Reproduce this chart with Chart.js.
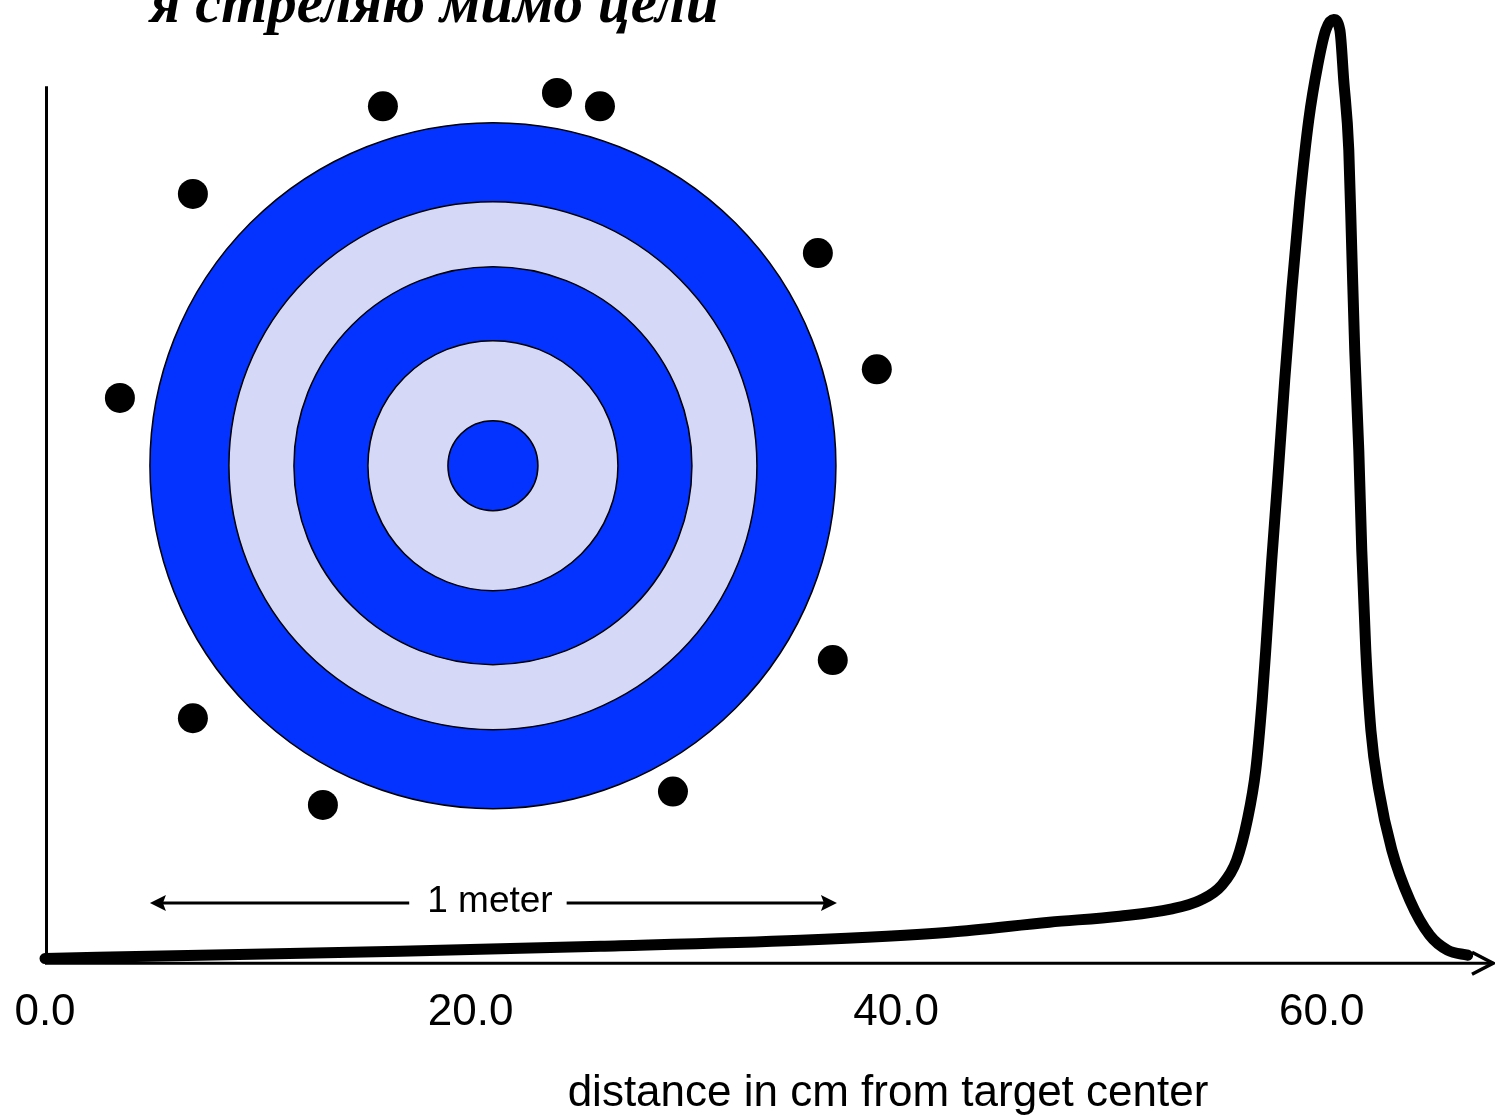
<!DOCTYPE html>
<html lang="ru">
<head>
    <meta charset="UTF-8">
    <title>я стреляю мимо цели</title>
    <script src="https://cdn.jsdelivr.net/npm/chart.js@4.4.1/dist/chart.umd.min.js"></script>
    <style>
        html, body { margin: 0; padding: 0; background: #fff; }
        #wrap { width: 1495px; height: 1120px; }
    </style>
</head>
<body>
    <div id="wrap"><canvas id="shotChart"></canvas></div>

    <script>
        // distance from target center (cm) and relative frequency
        const distances = [0, 7.3, 16.7, 26.1, 35.5, 42.5, 47.2, 50.5, 52.9, 54.3, 55.3, 56.0, 56.5, 56.9,
            57.2, 57.4, 57.65, 57.93, 58.26, 58.59, 58.97, 59.39, 59.81, 60.19, 60.56, 60.85, 61.03,
            61.27, 61.41, 61.55, 61.74, 61.88, 62.07, 62.31, 62.68, 63.29, 64.14, 65.07, 65.92, 66.86];
        const frequency = [0.5, 0.84, 1.26, 1.78, 2.41, 3.25, 4.3, 4.93, 5.67, 6.61, 8.18, 10.8, 15.0, 20.3,
            27.6, 33.9, 42.3, 50.7, 61.2, 70.6, 80.1, 88.5, 94.2, 97.9, 99.0, 97.9, 92.7,
            85.3, 74.8, 64.3, 53.8, 43.3, 32.8, 24.4, 18.2, 11.9, 6.6, 2.94, 1.36, 0.84];

        // shots that missed the target (same x/y space as the chart)
        const shotX = [15.88, 24.06, 26.08, 6.95, 36.32, 39.09, 3.52, 37.02, 6.95, 13.06, 29.51];
        const shotY = [89.9, 91.3, 89.9, 80.7, 74.5, 62.3, 59.3, 31.8, 25.7, 16.6, 18.0];

        // target center
        const targetX = 21.05;
        const targetY = 52.2;

        const tickValues = [0, 20, 40, 60];
        const titleText = 'я стреляю мимо цели';
        const axisTitle = 'distance in cm from target center';
        const scaleLabel = '1 meter';

        // styling
        const ringRadii = [343, 264, 199, 125, 45];
        const ringColors = ['#0433ff', '#d6d8f8', '#0433ff', '#d6d8f8', '#0433ff'];
        const yAxisTop = 92;

        const targetRings = ringRadii.map(() => ({ x: targetX, y: targetY }));
        const shots = shotX.map((x, i) => ({ x: x, y: shotY[i] }));
        const curve = distances.map((d, i) => ({ x: d, y: frequency[i] }));

        const axesPlugin = {
            id: 'axesPlugin',
            beforeDatasetsDraw(chart) {
                const ctx = chart.ctx;
                const xs = chart.scales.x, ys = chart.scales.y;
                const x0 = xs.getPixelForValue(0) + 1.5;
                const y0 = ys.getPixelForValue(0);
                const right = chart.chartArea.right;
                ctx.save();
                ctx.strokeStyle = '#000';
                ctx.lineWidth = 3;
                ctx.beginPath();
                ctx.moveTo(x0, ys.getPixelForValue(yAxisTop));
                ctx.lineTo(x0, y0);
                ctx.lineTo(right, y0);
                ctx.stroke();
                // arrow head
                ctx.lineWidth = 3.5;
                ctx.beginPath();
                ctx.moveTo(right - 20, y0 - 11);
                ctx.lineTo(right + 1, y0);
                ctx.lineTo(right - 20, y0 + 11);
                ctx.stroke();
                ctx.restore();
            },
            afterDatasetsDraw(chart) {
                const ctx = chart.ctx;
                const xs = chart.scales.x;
                ctx.save();
                ctx.fillStyle = '#000';

                // title, partly cut off at the top
                ctx.font = 'italic bold 59px "Liberation Serif"';
                ctx.textAlign = 'left';
                ctx.textBaseline = 'alphabetic';
                ctx.fillText(titleText, 150, 22);

                // axis title
                ctx.font = '44px "Liberation Sans"';
                ctx.textAlign = 'center';
                ctx.textBaseline = 'middle';
                ctx.fillText(axisTitle, 888, 1094);

                // 1 meter scale arrow under the target
                const cx = xs.getPixelForValue(targetX);
                const r = ringRadii[0];
                const ay = 903;
                const left = cx - r, rightX = cx + r + 1;
                ctx.font = '37px "Liberation Sans"';
                ctx.fillText(scaleLabel, cx - 3, ay - 1);
                const tw = ctx.measureText(scaleLabel).width;
                ctx.strokeStyle = '#000';
                ctx.lineWidth = 3;
                ctx.beginPath();
                ctx.moveTo(left + 8, ay);
                ctx.lineTo(cx - 3 - tw / 2 - 18, ay);
                ctx.moveTo(cx - 3 + tw / 2 + 14, ay);
                ctx.lineTo(rightX - 8, ay);
                ctx.stroke();
                ctx.beginPath();
                ctx.moveTo(left, ay);
                ctx.lineTo(left + 16, ay - 8);
                ctx.lineTo(left + 13, ay);
                ctx.lineTo(left + 16, ay + 8);
                ctx.closePath();
                ctx.moveTo(rightX, ay);
                ctx.lineTo(rightX - 16, ay - 8);
                ctx.lineTo(rightX - 13, ay);
                ctx.lineTo(rightX - 16, ay + 8);
                ctx.closePath();
                ctx.fill();
                ctx.restore();
            }
        };

        new Chart(document.getElementById('shotChart'), {
            type: 'scatter',
            data: {
                datasets: [
                    {
                        type: 'line',
                        label: 'frequency',
                        data: curve,
                        borderColor: '#000',
                        borderWidth: 11,
                        pointRadius: 0,
                        fill: false,
                        cubicInterpolationMode: 'monotone',
                        borderCapStyle: 'round',
                        borderJoinStyle: 'round',
                        clip: false
                    },
                    {
                        label: 'shots',
                        data: shots,
                        backgroundColor: '#000',
                        borderColor: '#000',
                        pointRadius: 15,
                        borderWidth: 0,
                        clip: false
                    },
                    {
                        label: 'target',
                        data: targetRings,
                        backgroundColor: ringColors,
                        borderColor: '#000',
                        borderWidth: 1.5,
                        pointRadius: ringRadii,
                        clip: false
                    }
                ]
            },
            options: {
                responsive: true,
                maintainAspectRatio: false,
                animation: false,
                events: [],
                layout: {
                    autoPadding: false,
                    padding: { left: 45, right: 3, top: 10, bottom: 78 }
                },
                plugins: {
                    legend: { display: false },
                    tooltip: { enabled: false }
                },
                scales: {
                    x: {
                        type: 'linear',
                        min: 0,
                        max: 68,
                        border: { display: false },
                        grid: { display: false, drawTicks: true, tickLength: 20 },
                        afterBuildTicks: (scale) => {
                            scale.ticks = tickValues.map(v => ({ value: v }));
                        },
                        ticks: {
                            color: '#000',
                            padding: 3,
                            maxRotation: 0,
                            font: { family: '"Liberation Sans"', size: 44 },
                            callback: (v) => Number(v).toFixed(1)
                        }
                    },
                    y: {
                        display: false,
                        min: 0,
                        max: 100
                    }
                }
            },
            plugins: [axesPlugin]
        });
    </script>
</body>
</html>
